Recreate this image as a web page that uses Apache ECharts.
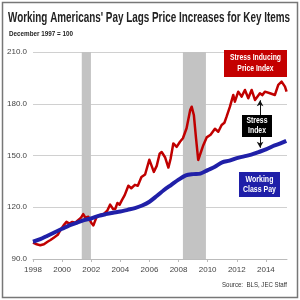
<!DOCTYPE html>
<html>
<head>
<meta charset="utf-8">
<script src="https://cdn.jsdelivr.net/npm/echarts@6/dist/echarts.min.js"></script>
<style>html,body{margin:0;padding:0;background:#fff}#c{width:300px;height:300px}</style>
</head>
<body>
<div id="c"></div>
<script>
var titleText = "Working Americans' Pay Lags Price Increases for Key Items";
var subtitleText = "December 1997 = 100";
var sourceText = "Source:  BLS, JEC Staff";
var redLabel = "Stress Inducing\nPrice Index";
var blueLabel = "Working\nClass Pay";
var gapLabel = "Stress\nIndex";

var yTicks = [90, 120, 150, 180, 210];
var xTickYears = [1998, 2000, 2002, 2004, 2006, 2008, 2010, 2012, 2014];

var recessions = [[2001.35, 2001.98], [2008.3, 2009.88]];

var redYears = [1998.0,1998.25,1998.5,1998.75,1999.0,1999.2,1999.45,1999.7,1999.9,2000.1,2000.3,2000.5,2000.7,2000.9,2001.1,2001.3,2001.45,2001.6,2001.8,2002.0,2002.15,2002.35,2002.6,2002.85,2003.1,2003.3,2003.5,2003.65,2003.8,2003.95,2004.1,2004.3,2004.55,2004.75,2005.0,2005.2,2005.45,2005.7,2005.99,2006.15,2006.3,2006.5,2006.7,2006.84,2007.07,2007.3,2007.45,2007.64,2007.87,2008.1,2008.3,2008.55,2008.8,2008.9,2009.05,2009.2,2009.35,2009.7,2009.93,2010.2,2010.5,2010.73,2010.96,2011.15,2011.3,2011.53,2011.76,2011.87,2012.1,2012.33,2012.56,2012.79,2013.02,2013.25,2013.59,2013.75,2013.93,2014.28,2014.62,2014.85,2015.08,2015.31,2015.42];
var redValues = [99.5,98.5,98,98.5,100,101,102.5,104,107,109.5,111.5,110.5,111.5,111,112.5,114,116,114,114.5,111,109.5,114,115.5,116,118,121.5,119,119,122.5,121.5,124,127,132.5,131,133,132.5,137.5,139,147.5,144,140.5,144,151,152,149,143,148,157,155,158,160,165.8,176.4,178.3,173.5,160,147.4,156,160.5,162,165.5,163.8,167.7,169,172.5,178.3,185.1,181.2,187,184.1,188,183.2,188,182.2,186.1,185,187,186.1,185.1,190.9,192.8,189.9,187];

var blueYears = [1998.0,1998.5,1999.0,1999.5,2000.0,2000.5,2001.0,2001.5,2002.0,2002.5,2003.0,2003.5,2004.0,2004.5,2005.0,2005.5,2006.0,2006.5,2007.0,2007.5,2008.0,2008.5,2009.0,2009.5,2010.0,2010.5,2011.0,2011.5,2012.0,2012.5,2013.0,2013.5,2014.0,2014.5,2015.0,2015.4];
var blueValues = [100,101.5,103.5,105.5,107.5,109.5,111,112.5,113.5,115,116,116.8,117.5,118.5,119.5,121,123.2,126.5,130,133,136,138.5,139.2,139.5,141.5,143.5,146,147,148.5,149.5,150.5,152,153.5,155.5,157,158.5];

var arrowYear = 2013.6, arrowTop = 182, arrowBottom = 154.5;

function pairs(xs, ys){ return xs.map(function(x,i){ return [x, ys[i]]; }); }

var baseFont = "'Liberation Sans',Arial,sans-serif";
var mctx = document.createElement('canvas').getContext('2d');
function widthOf(text, font){
  mctx.font = font;
  return Math.max.apply(null, text.split('\n').map(function(t){ return mctx.measureText(t).width; }));
}
// narrow text: horizontally squeezed to a target width
function narrowText(text, font, x, y, targetW, align, fill, lineHeight){
  var w = widthOf(text, font);
  var sx = targetW / w;
  return {type: 'text', x: x, y: y, scaleX: sx, scaleY: 1, z: 51,
    style: {x: 0, y: 0, text: text, font: font, fill: fill, align: align, verticalAlign: 'middle', lineHeight: lineHeight}};
}

var chart = echarts.init(document.getElementById('c'), null, {renderer:'canvas'});
chart.setOption({
  animation: false,
  backgroundColor: '#fff',
  grid: {left: 33, right: 13, top: 52, bottom: 41},
  xAxis: {
    type: 'value', min: 1998, max: 2015.45, interval: 2,
    axisLine: {show: true, lineStyle: {color: '#bbb'}},
    axisTick: {show: true, length: 3, lineStyle: {color: '#bbb'}},
    splitLine: {show: false},
    axisLabel: {showMaxLabel: false, margin: 7, fontSize: 8, color: '#444', fontFamily: baseFont,
      formatter: function(v){ return xTickYears.indexOf(Math.round(v)) >= 0 ? String(Math.round(v)) : ''; }}
  },
  yAxis: {
    type: 'value', min: yTicks[0], max: yTicks[yTicks.length-1], interval: 30,
    axisLine: {show: false}, axisTick: {show: false},
    splitLine: {lineStyle: {color: '#d0d0d0', width: 1}},
    axisLabel: {margin: 6, fontSize: 8, color: '#444', fontFamily: baseFont,
      formatter: function(v){ return v.toFixed(1); }}
  },
  series: [
    {
      type: 'line', name: 'recess', data: [], silent: true,
      markArea: {silent: true, itemStyle: {color: '#c3c3c3'},
        data: recessions.map(function(r){ return [{xAxis: r[0]}, {xAxis: r[1]}]; })}
    },
    {
      type: 'line', name: 'Stress Inducing Price Index', data: pairs(redYears, redValues),
      showSymbol: false, smooth: false, lineStyle: {color: '#c00000', width: 2.5, join: 'round'}, itemStyle: {color: '#c00000'},
      z: 3,
      markLine: {silent: true, symbol: ['arrow','arrow'], symbolSize: [5,6], label: {show: false},
        lineStyle: {color: '#111', width: 1, type: 'solid'},
        data: [[{coord: [arrowYear, arrowTop]}, {coord: [arrowYear, arrowBottom]}]]}
    },
    {
      type: 'line', name: 'Working Class Pay', data: pairs(blueYears, blueValues),
      showSymbol: false, smooth: 0.3, lineStyle: {color: '#2020a8', width: 4}, itemStyle: {color: '#2020a8'}, z: 4
    }
  ],
  graphic: [
    {type: 'rect', shape: {x: 2.5, y: 2.5, width: 295, height: 295}, style: {fill: 'none', stroke: '#777', lineWidth: 1.5}, z: 100},
    narrowText(titleText, 'bold 15px ' + baseFont, 8, 18, 282, 'left', '#222', 16),
    narrowText(subtitleText, 'bold 8px ' + baseFont, 9, 34, 64, 'left', '#222', 9),
    {type: 'rect', shape: {x: 224, y: 50, width: 63, height: 27}, style: {fill: '#c40000'}, z: 50},
    narrowText(redLabel, 'bold 8.5px ' + baseFont, 255.5, 63.5, 51, 'center', '#fff', 11),
    {type: 'rect', shape: {x: 242, y: 115, width: 30, height: 22}, style: {fill: '#000'}, z: 50},
    narrowText(gapLabel, 'bold 8.5px ' + baseFont, 257, 126, 21, 'center', '#fff', 10),
    {type: 'rect', shape: {x: 239, y: 172, width: 41, height: 25}, style: {fill: '#1f1fa8'}, z: 50},
    narrowText(blueLabel, 'bold 8.5px ' + baseFont, 259.5, 184.5, 33, 'center', '#fff', 10),
    narrowText(sourceText, '8px ' + baseFont, 287, 285, 65, 'right', '#333', 9)
  ]
});
</script>
</body>
</html>
